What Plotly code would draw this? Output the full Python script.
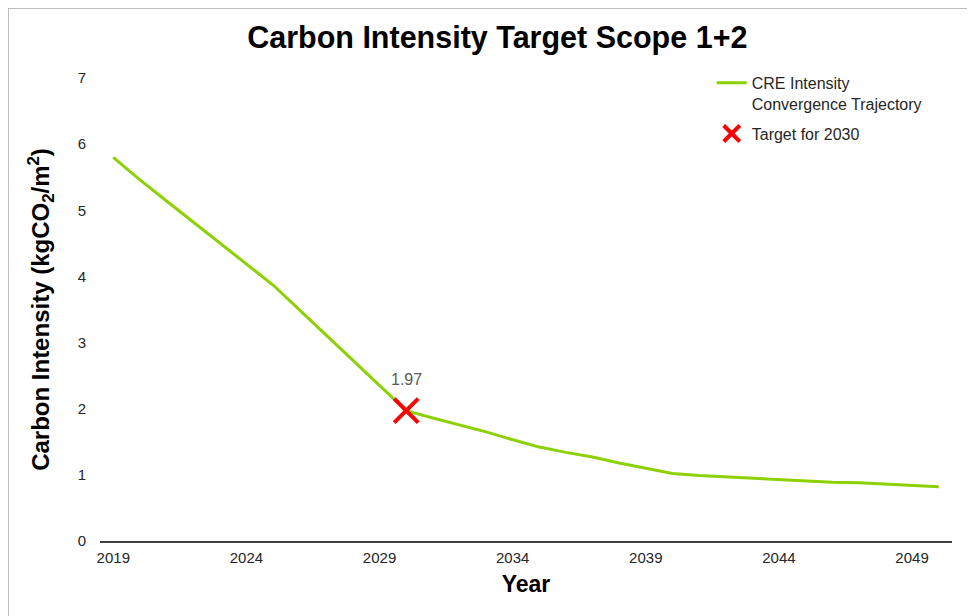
import plotly.graph_objects as go

# Data
years = list(range(2019, 2051))
intensity = [5.80, 5.46, 5.14, 4.82, 4.50, 4.18, 3.87,
             3.49, 3.11, 2.73, 2.35, 1.97,
             1.86, 1.76, 1.65, 1.53, 1.42, 1.34, 1.27, 1.18, 1.10, 1.02,
             0.99, 0.97, 0.94, 0.92, 0.91, 0.89, 0.88, 0.86, 0.84, 0.82]
target_year = [2030]
target_value = [1.97]
tick_years = years[::5]

font = "Arial, Liberation Sans, sans-serif"

fig = go.Figure()

fig.add_trace(go.Scatter(x=years, y=intensity, mode="lines", legendgroup="line",
                         name="CRE Intensity<br>Convergence Trajectory",
                         line=dict(color="#8DD104", width=3)))

fig.add_trace(go.Scatter(x=target_year, y=target_value, mode="markers", legendgroup="target",
                         name="Target for 2030",
                         marker=dict(symbol="x-thin", size=24, color="#FF0000",
                                     line=dict(color="#FF0000", width=4))))

# data label for the target
fig.add_annotation(x=target_year[0], y=target_value[0], text=f"{target_value[0]:.2f}",
                   showarrow=False, yshift=31, font=dict(size=16, color="#595959", family=font))

# page body has an 8px margin, so the figure is 8px smaller than the window
fig.update_layout(
    width=967, height=608,
    margin=dict(l=92, r=23, t=70, b=75),
    paper_bgcolor="white", plot_bgcolor="white",
    font=dict(family=font, color="#333333"),
    title=dict(text="<b>Carbon Intensity Target Scope 1+2</b>", x=0.506, xanchor="center",
               y=0.952, yanchor="middle", font=dict(size=30.5, color="black", family=font)),
    legend=dict(x=0.718, y=1.026, xanchor="left", yanchor="top", valign="top",
                font=dict(size=16, color="#262626", family=font),
                bgcolor="rgba(0,0,0,0)", tracegroupgap=6),
    showlegend=True,
)

fig.update_xaxes(range=[2018.5, 2050.5], tickvals=tick_years, showgrid=False,
                 showline=True, linecolor="#404040", linewidth=1.5, zeroline=False,
                 ticks="", tickfont=dict(size=15, color="#262626"), ticklabelstandoff=2,
                 title=dict(text="<b>Year</b>", font=dict(size=23, color="black"), standoff=11))

fig.update_yaxes(range=[0, 7], dtick=1, showgrid=False, showline=False, zeroline=False,
                 ticks="", tickfont=dict(size=15, color="#262626"), ticklabelstandoff=13,
                 title=dict(text="<b>Carbon Intensity (kgCO<sub>2</sub>/m<sup>2</sup>)</b>",
                            font=dict(size=24, color="black"), standoff=21))

# outer chart border (left and top edges visible)
fig.add_shape(type="line", xref="paper", yref="paper", x0=-0.108, x1=-0.108, y0=-0.2, y1=1.151,
              line=dict(color="#A6A6A6", width=1.5))
fig.add_shape(type="line", xref="paper", yref="paper", x0=-0.108, x1=1.1, y0=1.151, y1=1.151,
              line=dict(color="#A6A6A6", width=1.5))

fig.write_html("out.html")
